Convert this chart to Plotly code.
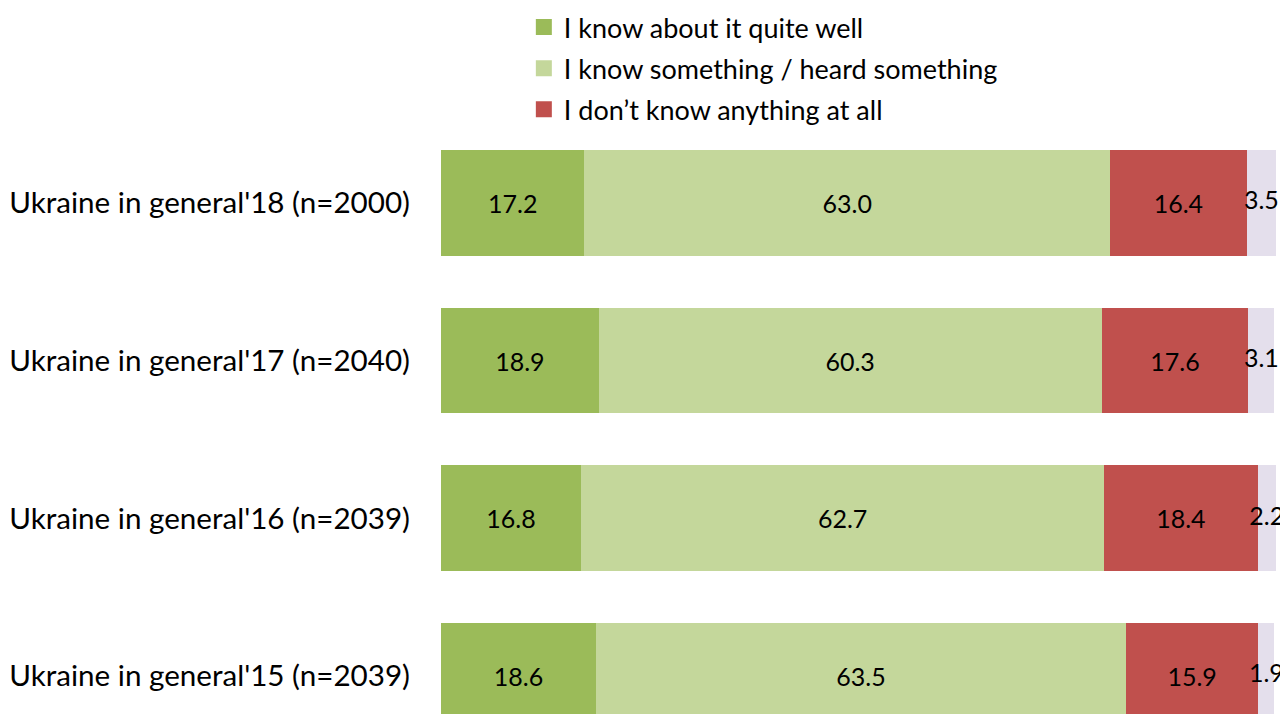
import plotly.graph_objects as go

categories = [
    "Ukraine in general'15 (n=2039)",
    "Ukraine in general'16 (n=2039)",
    "Ukraine in general'17 (n=2040)",
    "Ukraine in general'18 (n=2000)",
]
know_well = [18.6, 16.8, 18.9, 17.2]
know_something = [63.5, 62.7, 60.3, 63.0]
know_nothing = [15.9, 18.4, 17.6, 16.4]
hard_to_say = [1.9, 2.2, 3.1, 3.5]

series_names = [
    "I know about it quite well",
    "I know something / heard something",
    "I don\u2019t know anything at all",
    "Hard to say",
]
series_values = [know_well, know_something, know_nothing, hard_to_say]
colors = ["#9BBB59", "#C4D79B", "#C0504D", "#E4DFEC"]

FONT = "Lato"

fig = go.Figure()
for i, (name, vals, col) in enumerate(zip(series_names, series_values, colors)):
    last = i == len(series_names) - 1
    fig.add_trace(go.Bar(
        y=categories,
        x=vals,
        name=name,
        orientation="h",
        marker=dict(color=col, line=dict(width=0)),
        text=None if last else [f"{v:.1f}" for v in vals],
        textposition="inside",
        insidetextanchor="middle",
        textangle=0,
        constraintext="none",
        textfont=dict(family=FONT, size=25, color="black"),
        showlegend=False,
        hoverinfo="skip",
    ))

# labels for the narrow last segment (centered on segment, allowed to overflow)
base = [a + b + c for a, b, c in zip(know_well, know_something, know_nothing)]
fig.add_trace(go.Scatter(
    y=categories,
    x=[b + h / 2 for b, h in zip(base, hard_to_say)],
    mode="text",
    text=[f"{v:.1f}" for v in hard_to_say],
    textposition="middle center",
    textfont=dict(family=FONT, size=25, color="black"),
    cliponaxis=False,
    showlegend=False,
    hoverinfo="skip",
))

# legend entries (first three series only)
for i in range(3):
    fig.add_trace(go.Scatter(
        x=[None], y=[None], mode="markers",
        name=series_names[i],
        marker=dict(symbol="square", size=17, color=colors[i]),
        legendgroup=f"g{i}",
        showlegend=True,
    ))

fig.update_layout(
    template="none",
    barmode="stack",
    bargap=0.33,
    width=1280,
    height=706,
    margin=dict(l=433, r=12, t=116, b=0, autoexpand=False),
    paper_bgcolor="white",
    plot_bgcolor="white",
    font=dict(family=FONT, size=24, color="black"),
    legend=dict(
        xref="container", yref="paper",
        x=0.403, y=1.205, xanchor="left", yanchor="top",
        orientation="v",
        tracegroupgap=3,
        font=dict(family=FONT, size=27, color="black"),
        itemwidth=30,
        bgcolor="rgba(0,0,0,0)",
    ),
    xaxis=dict(range=[0, 100.1], visible=False, fixedrange=True, automargin=False),
    yaxis=dict(
        type="category",
        categoryorder="array",
        categoryarray=categories,
        range=[-0.2405, 3.5],
        showgrid=False,
        zeroline=False,
        showline=False,
        ticks="",
        automargin=False,
        ticklabelstandoff=30,
        tickfont=dict(family=FONT, size=29.6, color="black"),
    ),
)

fig.write_html("out.html")
